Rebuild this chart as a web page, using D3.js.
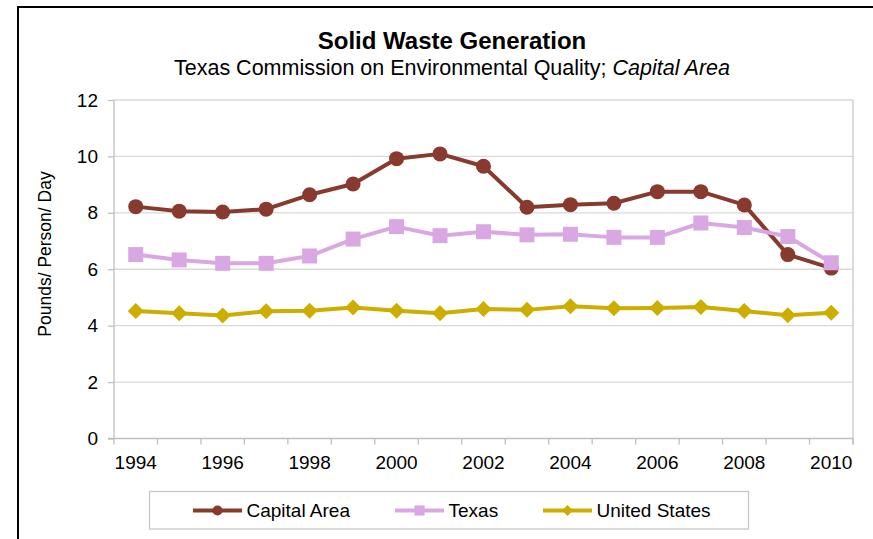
<!DOCTYPE html>
<html>
<head>
<meta charset="utf-8">
<script src="https://cdn.jsdelivr.net/npm/d3@7"></script>
<style>
  body { margin: 0; background: #fff; }
  svg { font-family: "Liberation Sans", Arial, sans-serif; }
</style>
</head>
<body>
<svg width="873" height="539"></svg>
<script>
let years = ['1994', '1995', '1996', '1997', '1998', '1999', '2000', '2001', '2002',
    '2003', '2004', '2005', '2006', '2007', '2008', '2009', '2010']
let capitalArea = [8.22, 8.06, 8.03, 8.13, 8.64, 9.02, 9.92, 10.09, 9.65,
    8.2, 8.29, 8.34, 8.75, 8.75, 8.28, 6.52, 6.04]
let texas = [6.52, 6.33, 6.21, 6.21, 6.47, 7.07, 7.51, 7.19, 7.33,
    7.22, 7.24, 7.13, 7.13, 7.64, 7.48, 7.16, 6.23]
let unitedStates = [4.52, 4.44, 4.36, 4.51, 4.53, 4.64, 4.53, 4.44, 4.59,
    4.56, 4.69, 4.62, 4.63, 4.66, 4.52, 4.37, 4.46]
let yTicks = [0, 2, 4, 6, 8, 10, 12]
let xLabels = ['1994', '1996', '1998', '2000', '2002', '2004', '2006', '2008', '2010']

let series = [
    { name: 'Capital Area', values: capitalArea, color: '#883A2F', marker: 'circle' },
    { name: 'Texas', values: texas, color: '#D9A8E3', marker: 'square' },
    { name: 'United States', values: unitedStates, color: '#CCAD00', marker: 'diamond' }
]

let svg = d3.select('svg')

// outer frame (runs past the right and bottom edge)
svg.append('rect')
    .attr('x', 18).attr('y', 7)
    .attr('width', 900).attr('height', 600)
    .attr('fill', 'none')
    .attr('stroke', '#000')
    .attr('stroke-width', 2)

let pLeft = 114, pRight = 853, pTop = 100, pBottom = 438.5

let x = d3.scaleBand().domain(years).range([pLeft, pRight])
let y = d3.scaleLinear().domain([0, 12]).range([pBottom, pTop])

// gridlines
svg.append('g')
    .selectAll('line')
    .data(yTicks.filter(d => d > 0))
    .enter()
    .append('line')
    .attr('x1', pLeft).attr('x2', pRight)
    .attr('y1', d => y(d)).attr('y2', d => y(d))
    .attr('stroke', '#d9d9d9')
    .attr('stroke-width', 1.3)

// right border of plot
svg.append('line')
    .attr('x1', pRight).attr('x2', pRight)
    .attr('y1', pTop).attr('y2', pBottom + 6)
    .attr('stroke', '#c8c8c8')
    .attr('stroke-width', 1.3)

// y axis
let yAxis = svg.append('g')
    .attr('transform', 'translate(' + pLeft + ',0)')
    .call(d3.axisLeft(y).tickValues(yTicks).tickSize(6).tickPadding(10))
yAxis.select('.domain').attr('stroke', '#bfbfbf').attr('stroke-width', 1.3)
    .attr('d', 'M0,' + pTop + 'V' + pBottom)
yAxis.selectAll('.tick line').attr('stroke', '#bfbfbf').attr('stroke-width', 1.3)
yAxis.selectAll('text').attr('font-size', 19).attr('fill', '#000')
    .attr('font-family', '"Liberation Sans", Arial, sans-serif')

// x axis, ticks between categories
let xg = svg.append('g').attr('transform', 'translate(0,' + pBottom + ')')
xg.append('line')
    .attr('x1', pLeft - 6).attr('x2', pRight)
    .attr('stroke', '#bfbfbf').attr('stroke-width', 1.3)
let bounds = years.map(d => x(d)).concat([pRight])
xg.selectAll('line.tk')
    .data(bounds)
    .enter()
    .append('line')
    .attr('class', 'tk')
    .attr('x1', d => d).attr('x2', d => d)
    .attr('y1', 0).attr('y2', 6)
    .attr('stroke', '#bfbfbf').attr('stroke-width', 1.3)
xg.selectAll('text')
    .data(xLabels)
    .enter()
    .append('text')
    .text(d => d)
    .attr('x', d => x(d) + x.bandwidth() / 2)
    .attr('y', 30)
    .attr('text-anchor', 'middle')
    .attr('font-size', 19)

// y label
svg.append('text')
    .text('Pounds/ Person/ Day')
    .attr('transform', 'translate(51,254) rotate(-90)')
    .attr('text-anchor', 'middle')
    .attr('font-size', 17.5)

// titles
svg.append('text')
    .text('Solid Waste Generation')
    .attr('x', 452).attr('y', 49)
    .attr('text-anchor', 'middle')
    .attr('font-size', 24)
    .attr('font-weight', 'bold')
let sub = svg.append('text')
    .attr('x', 452).attr('y', 75)
    .attr('text-anchor', 'middle')
    .attr('font-size', 21.5)
sub.append('tspan').text('Texas Commission on Environmental Quality; ')
sub.append('tspan').text('Capital Area').attr('font-style', 'italic')

function drawMarker(g, type, color) {
    if (type === 'circle') {
        g.append('circle').attr('r', 7.5).attr('fill', color)
    } else if (type === 'square') {
        g.append('rect').attr('x', -7.5).attr('y', -7.5)
            .attr('width', 15).attr('height', 15).attr('fill', color)
    } else {
        g.append('path').attr('d', 'M0,-8L8,0L0,8L-8,0Z').attr('fill', color)
    }
}

let line = d3.line()
    .x((d, i) => x(years[i]) + x.bandwidth() / 2)
    .y(d => y(d))

series.forEach(s => {
    svg.append('path')
        .datum(s.values)
        .attr('d', line)
        .attr('fill', 'none')
        .attr('stroke', s.color)
        .attr('stroke-width', 4)
        .attr('stroke-linejoin', 'round')
    s.values.forEach((v, i) => {
        let g = svg.append('g')
            .attr('transform', 'translate(' + (x(years[i]) + x.bandwidth() / 2) + ',' + y(v) + ')')
        drawMarker(g, s.marker, s.color)
    })
})

// legend
let legend = svg.append('g')
legend.append('rect')
    .attr('x', 149.5).attr('y', 491.5)
    .attr('width', 599).attr('height', 37.5)
    .attr('fill', '#fff')
    .attr('stroke', '#c8c8c8')
    .attr('stroke-width', 1.3)
let legendX = [193, 395, 543]
series.forEach((s, i) => {
    let g = legend.append('g').attr('transform', 'translate(' + legendX[i] + ',510.5)')
    g.append('line')
        .attr('x1', 0).attr('x2', 49)
        .attr('stroke', s.color).attr('stroke-width', 4)
    let m = g.append('g').attr('transform', 'translate(24.5,0) scale(0.68)')
    drawMarker(m, s.marker, s.color)
    g.append('text')
        .text(s.name)
        .attr('x', 53.5).attr('y', 6)
        .attr('font-size', 19)
})
</script>
</body>
</html>
